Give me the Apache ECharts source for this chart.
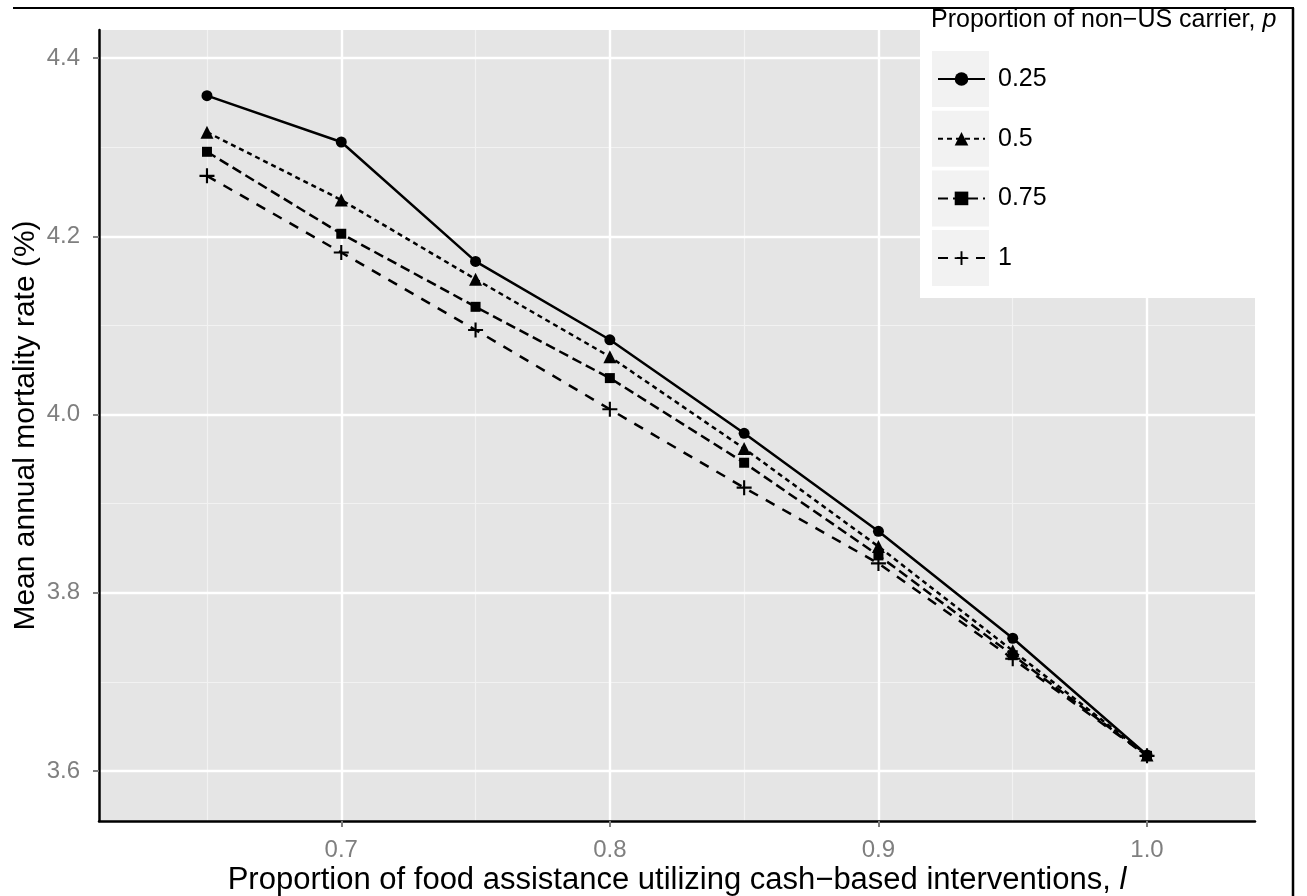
<!DOCTYPE html>
<html>
<head>
<meta charset="utf-8">
<script src="https://cdn.jsdelivr.net/npm/echarts@6/dist/echarts.min.js"></script>
<style>html,body{margin:0;padding:0;background:#fff}#c{width:1307px;height:896px}</style>
</head>
<body>
<div id="c"></div>
<script>
// ---- data ----
const xValues = [0.65, 0.7, 0.75, 0.8, 0.85, 0.9, 0.95, 1.0];
const seriesNames = ['0.25', '0.5', '0.75', '1'];
const p025 = [4.358, 4.306, 4.172, 4.084, 3.979, 3.869, 3.749, 3.618];
const p05  = [4.317, 4.241, 4.152, 4.065, 3.962, 3.852, 3.735, 3.618];
const p075 = [4.295, 4.203, 4.121, 4.041, 3.946, 3.842, 3.730, 3.617];
const p1   = [4.268, 4.182, 4.095, 4.006, 3.918, 3.833, 3.726, 3.617];
const xMajorTicks = [0.7, 0.8, 0.9, 1.0];
const xMinorTicks = [0.65, 0.75, 0.85, 0.95];
const yMajorTicks = [3.6, 3.8, 4.0, 4.2, 4.4];
const yMinorTicks = [3.7, 3.9, 4.1, 4.3];
const xLimits = [0.6098, 1.0402];
const yLimits = [3.5439, 4.4317];
const xTitle = 'Proportion of food assistance utilizing cash\u2212based interventions, ';
const yTitle = 'Mean annual mortality rate (%)';
const legendTitle = 'Proportion of non\u2212US carrier, ';

const allValues = [p025, p05, p075, p1];
const FONT = '"Liberation Sans", Arial, Helvetica, sans-serif';
const plusPath = 'path://M6,0H8V6H14V8H8V14H6V8H0V6H6Z';
const symbols = ['circle', 'triangle', 'rect', plusPath];
const symbolSizes = [11, 13, 10, 15];
const dashes = ['solid', [5, 4], [10, 5], [10, 9]];

const chart = echarts.init(document.getElementById('c'));
const G = {left: 99, right: 52, top: 30, bottom: 75};

const series = seriesNames.map((n, i) => ({
  name: n,
  type: 'line',
  xAxisIndex: 0, yAxisIndex: 0,
  data: xValues.map((x, j) => [x, allValues[i][j]]),
  symbol: symbols[i],
  symbolSize: symbolSizes[i],
  showSymbol: true,
  lineStyle: {color: '#000', width: 2.5, type: dashes[i]},
  itemStyle: {color: '#000'},
  z: 2 + i * 0.01,
  animation: false
}));

const legendBoxes = seriesNames.map((n, i) => ({
  type: 'rect', z: 3, z2: 1,
  shape: {x: 932, y: 51 + i * 59.7, width: 57, height: 56},
  style: {fill: '#f2f2f2'}
}));

chart.setOption({
  animation: false,
  grid: {left: G.left, right: G.right, top: G.top, bottom: G.bottom, show: true,
         backgroundColor: '#e5e5e5', borderWidth: 0, containLabel: false, outerBoundsMode: 'none'},
  title: {
    text: legendTitle + '{i|p}',
    left: 931, top: 8, padding: 0,
    textStyle: {fontFamily: FONT, fontSize: 25, fontWeight: 'normal', color: '#000',
      rich: {i: {fontFamily: FONT, fontSize: 25, fontStyle: 'italic', color: '#000'}}}
  },
  legend: {
    data: seriesNames,
    orient: 'vertical',
    left: 937, top: 66, padding: 0,
    itemWidth: 47, itemHeight: 17,
    itemGap: 33.7,
    textStyle: {fontFamily: FONT, fontSize: 25, color: '#000', padding: [0, 0, 0, 8], lineHeight: 26},
    selectedMode: false
  },
  xAxis: [{
    type: 'value', min: xLimits[0], max: xLimits[1],
    name: xTitle + '{i|l}', nameLocation: 'middle', nameGap: 44, nameMoveOverlap: false,
    nameTextStyle: {fontFamily: FONT, fontSize: 31, color: '#000',
      rich: {i: {fontFamily: FONT, fontSize: 31, fontStyle: 'italic', color: '#000'}}},
    axisLine: {show: true, onZero: false, lineStyle: {color: '#000', width: 2.5}},
    axisTick: {show: true, customValues: xMajorTicks, length: 6, lineStyle: {color: '#7f7f7f', width: 2}},
    axisLabel: {customValues: xMajorTicks, margin: 17, fontFamily: FONT, fontSize: 24, color: '#7f7f7f',
      formatter: v => v.toFixed(1)},
    splitLine: {show: true, lineStyle: {color: '#ffffff', width: 2.4}},
    z: 1
  }, {
    type: 'value', min: xLimits[0], max: xLimits[1], position: 'bottom',
    axisLine: {show: false}, axisTick: {show: false, customValues: xMinorTicks},
    axisLabel: {show: false, customValues: xMinorTicks},
    splitLine: {show: true, lineStyle: {color: '#f2f2f2', width: 1.2}}
  }],
  yAxis: [{
    type: 'value', min: yLimits[0], max: yLimits[1],
    name: yTitle, nameLocation: 'middle', nameGap: 58, nameRotate: 90, nameMoveOverlap: false,
    nameTextStyle: {fontFamily: FONT, fontSize: 30, color: '#000'},
    axisLine: {show: true, onZero: false, lineStyle: {color: '#000', width: 2.5}},
    axisTick: {show: true, customValues: yMajorTicks, length: 6, lineStyle: {color: '#7f7f7f', width: 2}},
    axisLabel: {customValues: yMajorTicks, margin: 19, fontFamily: FONT, fontSize: 24, color: '#7f7f7f',
      formatter: v => v.toFixed(1)},
    splitLine: {show: true, lineStyle: {color: '#ffffff', width: 2.4}},
    z: 1
  }, {
    type: 'value', min: yLimits[0], max: yLimits[1], position: 'left',
    axisLine: {show: false}, axisTick: {show: false, customValues: yMinorTicks},
    axisLabel: {show: false, customValues: yMinorTicks},
    splitLine: {show: true, lineStyle: {color: '#f2f2f2', width: 1.2}}
  }],
  graphic: [
    {type: 'rect', z: 3, z2: 0, shape: {x: 920, y: 0, width: 373, height: 298}, style: {fill: '#ffffff'}},
    ...legendBoxes,
    {type: 'line', z: 10, shape: {x1: 13, y1: 8, x2: 1294, y2: 8}, style: {stroke: '#000', lineWidth: 2}},
    {type: 'line', z: 10, shape: {x1: 1293, y1: 8, x2: 1293, y2: 896}, style: {stroke: '#000', lineWidth: 2.5}}
  ],
  series: series
});
</script>
</body>
</html>
